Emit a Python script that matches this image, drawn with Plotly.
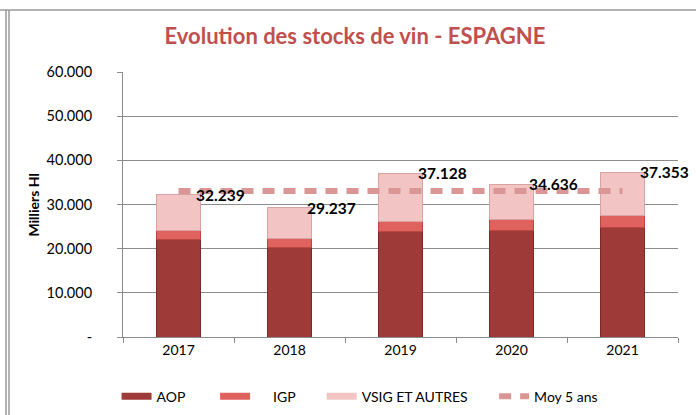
import plotly.graph_objects as go

years = ["2017", "2018", "2019", "2020", "2021"]
aop = [22050, 20300, 23800, 24200, 24750]
igp = [2100, 1900, 2300, 2300, 2750]
totals = [32239, 29237, 37128, 34636, 37353]
vsig = [t - a - i for t, a, i in zip(totals, aop, igp)]
moy5 = [33050, 33050, 33050, 33050, 33050]
total_labels = ["32.239", "29.237", "37.128", "34.636", "37.353"]
y_ticks = [0, 10000, 20000, 30000, 40000, 50000, 60000]
y_tick_labels = ["-", "10.000", "20.000", "30.000", "40.000", "50.000", "60.000"]

NB = "\u00a0"
C_AOP = "#9E3B39"
C_IGP = "#E0625E"
C_VSIG = "#F2C4C3"
C_MOY = "#DA9694"
FONT = "Lato"

fig = go.Figure()

series = [("AOP", "AOP" + NB * 7, aop, C_AOP, "#7A2A28"),
          ("IGP", NB * 5 + "IGP" + NB * 6, igp, C_IGP, "#B84743"),
          ("VSIG ET AUTRES", "VSIG ET AUTRES" + NB * 6, vsig, C_VSIG, "#D9A3A2")]
for name, legend_label, vals, col, edge in series:
    fig.add_trace(go.Bar(x=years, y=vals, name=name, marker=dict(color=col, line=dict(color=edge, width=1)),
                         legendgroup=name, showlegend=False, hoverinfo="y+name"))
    # legend proxy (wide flat swatch as in the original)
    fig.add_trace(go.Scatter(x=[years[0]], y=[None], mode="lines", name=legend_label, legendgroup=name,
                             line=dict(color=col, width=7)))

fig.add_trace(go.Scatter(x=years, y=moy5, mode="lines", name="Moy 5 ans",
                         line=dict(color=C_MOY, width=6, dash="12px,9px")))

# category axis: annotations use the category index position
for idx, (tot, lab) in enumerate(zip(totals, total_labels)):
    fig.add_annotation(x=idx, y=tot, text="<b>" + lab + "</b>", showarrow=False,
                       xshift=42, xanchor="center", yanchor="middle",
                       font=dict(family=FONT, size=15.5, color="#000000"))

# y axis title
fig.add_annotation(x=-0.162, y=0.5, xref="paper", yref="paper", text="<b>Milliers Hl</b>",
                   textangle=-90, showarrow=False, xanchor="center", yanchor="middle",
                   font=dict(family=FONT, size=14, color="#000000"))

# outer frame lines (chart area border as in source)
for x0, x1, y0, y1 in [(-0.3, 1.05, 1.234, 1.234), (-0.2108, -0.2108, -0.3, 1.234), (-0.2054, -0.2054, -0.3, 1.234)]:
    fig.add_shape(type="line", xref="paper", yref="paper", x0=x0, x1=x1, y0=y0, y1=y1,
                  line=dict(color="#9A9A9A", width=1.5))

fig.update_layout(
    width=696, height=415,
    margin=dict(l=123, r=18, t=72, b=78, autoexpand=False),
    paper_bgcolor="white", plot_bgcolor="white",
    barmode="stack", bargap=0.595,
    font=dict(family=FONT, size=14, color="#000000"),
    title=dict(text="<b>Evolution des stocks de vin - ESPAGNE</b>", x=0.51, xanchor="center",
               y=0.913, yanchor="middle", font=dict(family=FONT, size=22, color="#C0504D")),
    legend=dict(orientation="h", x=-0.0116, xanchor="left", y=-0.225, yanchor="middle",
                font=dict(family=FONT, size=14), itemwidth=30, tracegroupgap=0,
                bgcolor="rgba(0,0,0,0)"),
    showlegend=True,
)

fig.update_xaxes(type="category", categoryorder="array", categoryarray=years, range=[-0.5, 4.5],
                 automargin=False,
                 showline=True, linecolor="#8C8C8C", linewidth=1, ticks="outside", tickson="boundaries",
                 ticklen=5, tickcolor="#8C8C8C", tickfont=dict(family=FONT, size=14), showgrid=False)
fig.update_yaxes(range=[0, 60000], tickvals=y_ticks, ticktext=y_tick_labels,
                 showline=True, automargin=True, ticklabelstandoff=22,
                 linecolor="#8C8C8C", linewidth=1, ticks="outside", ticklen=5, tickcolor="#8C8C8C",
                 showgrid=True, gridcolor="#8C8C8C", gridwidth=1,
                 tickfont=dict(family=FONT, size=14.5), zeroline=False)

fig.write_html("out.html", config={"displayModeBar": False},
               post_script="document.body.style.margin='0';")
